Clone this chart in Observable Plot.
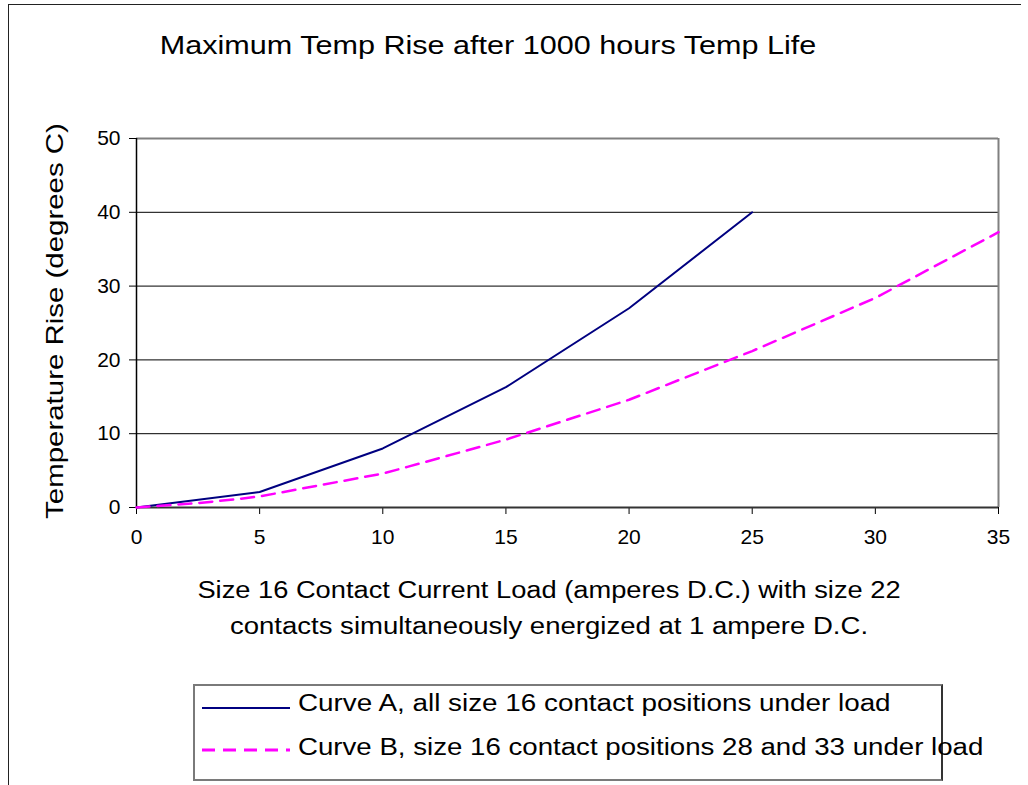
<!DOCTYPE html>
<html>
<head>
<meta charset="utf-8">
<script src="https://cdn.jsdelivr.net/npm/d3@7"></script>
<script src="https://cdn.jsdelivr.net/npm/@observablehq/plot@0.6"></script>
<style>
  html, body { margin: 0; padding: 0; background: #fff; }
  #page { position: relative; width: 1028px; height: 785px; overflow: hidden; background: #fff;
          font-family: "Liberation Sans", Arial, sans-serif; color: #000; }
  #chart { position: absolute; left: 0; top: 0; }
  .t { position: absolute; white-space: nowrap; line-height: 1; }
  #frame { position: absolute; left: 8px; top: 4px; width: 1012px; height: 800px;
           border-left: 1.5px solid #222; border-top: 1.5px solid #222; }
  #legend { position: absolute; left: 193px; top: 684px; width: 746px; height: 93px;
            border: 2px solid #7a7a7a; border-right-color: #333; }
</style>
</head>
<body>
<div id="page">
  <div id="frame"></div>
  <div id="chart"></div>
  <div id="legend"></div>
</div>
<script>
// ---- data ----
const xTicks = [0, 5, 10, 15, 20, 25, 30, 35];
const yTicks = [0, 10, 20, 30, 40, 50];

const curveAx = [0, 5, 10, 15, 20, 25];
const curveAy = [0, 2.1, 8.0, 16.3, 27.0, 40.0];

const curveBx = [0, 2.5, 4, 5, 10, 11, 15, 20, 25, 30, 35];
const curveBy = [0, 0.6, 1.1, 1.5, 4.6, 5.5, 9.2, 14.6, 21.2, 28.4, 37.3];

const titleText = "Maximum Temp Rise after 1000 hours Temp Life";
const yLabel = "Temperature Rise (degrees C)";
const xLabel1 = "Size 16 Contact Current Load (amperes D.C.) with size 22";
const xLabel2 = "contacts simultaneously energized at 1 ampere D.C.";
const legendA = "Curve A, all size 16 contact positions under load";
const legendB = "Curve B, size 16 contact positions 28 and 33 under load";

const colorA = "#000080";
const colorB = "#ff00ff";

const dataA = curveAx.map((x, i) => ({x, y: curveAy[i]}));
const dataB = curveBx.map((x, i) => ({x, y: curveBy[i]}));

const chart = Plot.plot({
  width: 1028,
  height: 560,
  marginLeft: 136,
  marginRight: 30,
  marginTop: 138,
  marginBottom: 53,
  x: {domain: [0, 35]},
  y: {domain: [0, 50]},
  style: {fontFamily: '"Liberation Sans", Arial, sans-serif', fontSize: "21px", color: "#000", background: "transparent", overflow: "visible"},
  marks: [
    Plot.ruleY(yTicks.filter(d => d > 0 && d < 50), {stroke: "#000", strokeWidth: 1}),
    Plot.ruleY([50], {stroke: "#808080", strokeWidth: 2}),
    Plot.ruleX([35], {stroke: "#808080", strokeWidth: 2}),
    Plot.axisY({ticks: yTicks, tickSize: 7, tickPadding: 9, label: null, fontSize: 21, tickFormat: d => String(d)}),
    Plot.axisX({ticks: xTicks, tickSize: 7, tickPadding: 15, label: null, fontSize: 21, tickFormat: d => String(d)}),
    Plot.ruleX([0], {stroke: "#000", strokeWidth: 1.5}),
    Plot.ruleY([0], {stroke: "#333", strokeWidth: 2}),
    Plot.line(dataA, {x: "x", y: "y", stroke: colorA, strokeWidth: 2}),
    Plot.line(dataB, {x: "x", y: "y", stroke: colorB, strokeWidth: 2.5, strokeDasharray: "13,8"})
  ]
});
document.getElementById("chart").appendChild(chart);

const page = document.getElementById("page");
function place(text, {x, y, width, size, anchor = "middle", rotate = 0}) {
  const el = document.createElement("div");
  el.className = "t";
  el.textContent = text;
  el.style.fontSize = size + "px";
  el.style.left = x + "px";
  el.style.top = y + "px";
  page.appendChild(el);
  const k = width / el.offsetWidth;
  if (anchor === "start") {
    el.style.transformOrigin = "0 50%";
    el.style.transform = `translateY(-50%) scaleX(${k})`;
  } else {
    el.style.transform = `translate(-50%,-50%) rotate(${rotate}deg) scaleX(${k})`;
  }
  return el;
}
place(titleText, {x: 488, y: 45, width: 656, size: 26});
place(yLabel, {x: 55, y: 321, width: 396, size: 24, rotate: -90});
place(xLabel1, {x: 549, y: 590, width: 703, size: 23});
place(xLabel2, {x: 549, y: 626, width: 638, size: 23});
place(legendA, {x: 298, y: 703, width: 593, size: 23, anchor: "start"});
place(legendB, {x: 298, y: 747, width: 685, size: 23, anchor: "start"});

// legend samples
const ns = "http://www.w3.org/2000/svg";
const lsvg = document.createElementNS(ns, "svg");
lsvg.setAttribute("width", 1028); lsvg.setAttribute("height", 785);
lsvg.style.position = "absolute"; lsvg.style.left = "0"; lsvg.style.top = "0";
[[708, colorA, 2, null], [750, colorB, 3, "13,8"]].forEach(([yy, c, w, dash]) => {
  const l = document.createElementNS(ns, "line");
  l.setAttribute("x1", 202); l.setAttribute("x2", 290);
  l.setAttribute("y1", yy); l.setAttribute("y2", yy);
  l.setAttribute("stroke", c); l.setAttribute("stroke-width", w);
  if (dash) l.setAttribute("stroke-dasharray", dash);
  lsvg.appendChild(l);
});
page.appendChild(lsvg);
</script>
</body>
</html>
